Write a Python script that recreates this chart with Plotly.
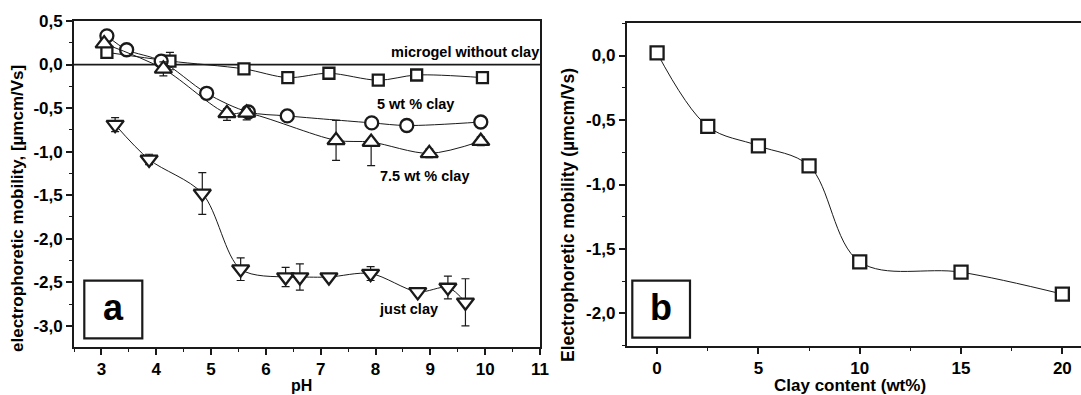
import plotly.graph_objects as go

W, H = 1081, 395

# ---------------- Panel a: mobility vs pH ----------------
ph_gel = [3.1, 4.25, 5.6, 6.4, 7.15, 8.05, 8.75, 9.95]
mob_gel = [0.14, 0.04, -0.05, -0.15, -0.10, -0.18, -0.12, -0.15]
err_gel = [0.03, 0.10, 0.03, 0.03, 0.03, 0.03, 0.02, 0.02]

ph_5 = [3.1, 3.46, 4.09, 4.92, 5.68, 6.39, 7.93, 8.57, 9.92]
mob_5 = [0.33, 0.17, 0.04, -0.33, -0.545, -0.59, -0.67, -0.70, -0.66]
err_5 = [0.03, 0.02, 0.03, 0.03, 0.04, 0.03, 0.03, 0.02, 0.03]

ph_75 = [3.05, 4.13, 5.29, 5.65, 7.28, 7.92, 8.98, 9.92]
mob_75 = [0.24, -0.05, -0.56, -0.555, -0.87, -0.89, -1.02, -0.88]
errp_75 = [0.03, 0.08, 0.05, 0.05, 0.23, 0.0, 0.05, 0.05]
errm_75 = [0.03, 0.08, 0.08, 0.08, 0.23, 0.27, 0.05, 0.05]

ph_clay = [3.25, 3.87, 4.84, 5.54, 6.36, 6.62, 7.15, 7.91, 8.77, 9.32, 9.64]
mob_clay = [-0.69, -1.09, -1.48, -2.35, -2.44, -2.44, -2.44, -2.40, -2.61, -2.56, -2.73]
err_clay = [0.08, 0.06, 0.24, 0.13, 0.11, 0.15, 0.04, 0.08, 0.03, 0.13, 0.27]

a_xticks = [3, 4, 5, 6, 7, 8, 9, 10, 11]
a_yticks = [0.5, 0.0, -0.5, -1.0, -1.5, -2.0, -2.5, -3.0]
a_yticktext = ["0,5", "0,0", "-0,5", "-1,0", "-1,5", "-2,0", "-2,5", "-3,0"]

# ---------------- Panel b: mobility vs clay content ----------------
clay_wt = [0, 2.5, 5, 7.5, 10, 15, 20]
mob_b = [0.02, -0.55, -0.70, -0.855, -1.60, -1.68, -1.85]
err_b = [0.03, 0.03, 0.02, 0.03, 0.04, 0.03, 0.04]

b_xticks = [0, 5, 10, 15, 20]
b_yticks = [0.0, -0.5, -1.0, -1.5, -2.0]
b_yticktext = ["0,0", "-0,5", "-1,0", "-1,5", "-2,0"]

INK = "#1a1a1a"
FONT = "Liberation Sans, Arial, sans-serif"


def px(x):
    return x / W


def py(y):
    return 1 - y / H


def bold(labels):
    return ["<b>%s</b>" % t for t in labels]


fig = go.Figure()


def add_series(x, y, symbol, size, xa, ya, err=None, errm=None, smooth=0.9):
    ey = None
    if err is not None:
        ey = dict(type="data", array=err, arrayminus=errm if errm is not None else err,
                  symmetric=errm is None, color=INK, thickness=1.2, width=4)
    fig.add_trace(go.Scatter(
        x=x, y=y, mode="lines+markers", xaxis=xa, yaxis=ya,
        line=dict(color=INK, width=1, shape="spline", smoothing=smooth),
        marker=dict(symbol=symbol, size=size, color="white",
                    line=dict(color=INK, width=2.3)),
        error_y=ey, showlegend=False, cliponaxis=False))


add_series(ph_gel, mob_gel, "square", 11, "x", "y", err_gel)
add_series(ph_5, mob_5, "circle", 13, "x", "y", err_5)
add_series(ph_75, mob_75, "triangle-up", 15, "x", "y", errp_75, errm_75)
add_series(ph_clay, mob_clay, "triangle-down", 15, "x", "y", err_clay)
add_series(clay_wt, mob_b, "square", 13, "x2", "y2", err_b, smooth=1.0)

tickfont = dict(family=FONT, size=17, color="#000000", weight="bold")
common_axis = dict(showline=True, linecolor=INK, linewidth=1.8, mirror=True,
                   ticks="outside", ticklen=6, tickwidth=1.5, tickcolor=INK,
                   showgrid=False, zeroline=False, tickfont=tickfont,
                   tickmode="array", automargin=False)

fig.update_layout(
    width=W, height=H,
    margin=dict(l=0, r=0, t=0, b=0, pad=0),
    paper_bgcolor="white", plot_bgcolor="white",
    xaxis=dict(domain=[px(74), px(540)], range=[2.5, 11], anchor="y",
               tickvals=a_xticks, ticktext=bold([str(v) for v in a_xticks]),
               minor=dict(dtick=0.5, tick0=0, ticks="outside", ticklen=3,
                          tickcolor=INK, tickwidth=1.3),
               **common_axis),
    yaxis=dict(domain=[py(346.7), py(21)], range=[-3.24, 0.5], anchor="x",
               tickvals=a_yticks, ticktext=bold(a_yticktext),
               minor=dict(dtick=0.25, tick0=0, ticks="outside", ticklen=3,
                          tickcolor=INK, tickwidth=1.3),
               **common_axis),
    xaxis2=dict(domain=[px(626.7), 1.0], range=[-1.5, 20.92], anchor="y2",
                tickvals=b_xticks, ticktext=bold([str(v) for v in b_xticks]),
                minor=dict(dtick=2.5, tick0=0, ticks="outside", ticklen=3,
                           tickcolor=INK, tickwidth=1.3),
                **common_axis),
    yaxis2=dict(domain=[py(345.7), py(23.3)], range=[-2.25, 0.25], anchor="x2",
                tickvals=b_yticks, ticktext=bold(b_yticktext),
                minor=dict(dtick=0.25, tick0=0, ticks="outside", ticklen=3,
                           tickcolor=INK, tickwidth=1.3),
                **common_axis),
)

# zero line in panel a
fig.add_shape(type="line", xref="x", yref="y", x0=2.5, x1=11, y0=0, y1=0,
              line=dict(color=INK, width=1.8), layer="below")

# label boxes
fig.add_shape(type="rect", xref="paper", yref="paper",
              x0=px(84.3), x1=px(142.3), y0=py(338.3), y1=py(280.7),
              line=dict(color=INK, width=2.2), fillcolor="white")
fig.add_shape(type="rect", xref="paper", yref="paper",
              x0=px(632.3), x1=px(690), y0=py(337.7), y1=py(280.7),
              line=dict(color=INK, width=2.2), fillcolor="white")


def ann(text, x, y, size=14, angle=0):
    fig.add_annotation(text="<b>%s</b>" % text, xref="paper", yref="paper",
                       x=px(x), y=py(y), showarrow=False, textangle=angle,
                       xanchor="center", yanchor="middle",
                       font=dict(family=FONT, size=size, color="#000000", weight="bold"))


ann("a", 113.3, 307, size=36)
ann("b", 661, 307, size=36)
ann("microgel without clay", 464.5, 52, size=14.5)
ann("5 wt % clay", 415, 104, size=14.5)
ann("7.5 wt % clay", 424, 176, size=14.5)
ann("just clay", 408, 309, size=14.5)

ann("electrophoretic mobility, [µmcm/Vs]", 17, 209, size=17, angle=-90)
ann("pH", 301, 385, size=16)
ann("Electrophoretic mobility (µmcm/Vs)", 568, 215, size=17.5, angle=-90)
ann("Clay content (wt%)", 850, 385, size=17)

fig.write_html("out.html")
